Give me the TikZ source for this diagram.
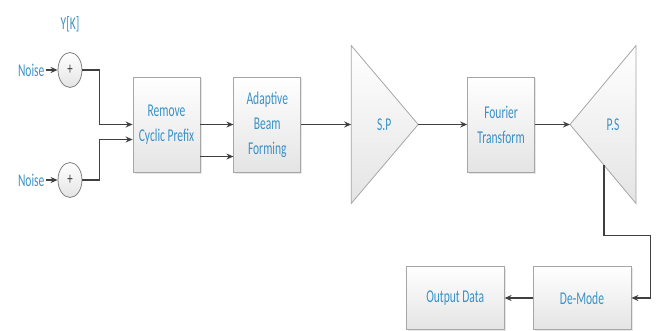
\documentclass[tikz,border=0pt]{standalone}
\usepackage{fontspec}
\newfontfamily\diagfont[FakeStretch=0.64]{Carlito}
\usetikzlibrary{arrows.meta, positioning, shapes.geometric, calc, shadows}
\definecolor{ink}{HTML}{3A92C6}
\definecolor{wire}{HTML}{404040}
\definecolor{border}{HTML}{A6A6A6}
\definecolor{shade}{HTML}{E4E4E4}
\tikzset{
  box/.style={draw=border, top color=white, bottom color=shade, line width=0.8pt,
              align=center, inner sep=2pt, font=\diagfont\fontsize{18}{25}\selectfont, text=ink,
              minimum width=67pt, minimum height=95pt,
              drop shadow={opacity=0.18, shadow xshift=1.5pt, shadow yshift=-1.5pt}},
  sum/.style={ellipse, draw=gray, top color=white, bottom color=shade, line width=0.8pt,
              minimum width=24pt, minimum height=35pt, inner sep=0pt,
              font=\diagfont\fontsize{17}{17}\selectfont, text=wire},
  tri/.style={draw=border, top color=white, bottom color=shade, line width=0.8pt},
  lbl/.style={inner sep=1pt, font=\diagfont\fontsize{18}{25}\selectfont, text=ink},
  fl/.style={-{Stealth[length=7pt, width=6pt]}, line width=1.2pt, draw=wire},
}
\begin{document}
\begin{tikzpicture}[x=1pt, y=1pt, node distance=33pt]
  \useasboundingbox (0,0) rectangle (656,330);
  % adders
  \node[sum] (s1) at (70,260) {+};
  \node[sum] (s2) at (70,150) {+};
  \node[lbl, left=12pt of s1] (n1) {Noise};
  \node[lbl, left=12pt of s2] (n2) {Noise};
  \node[lbl, above=19pt of s1] (yk) {Y[K]};
  % blocks
  \node[box] (rcp) at (166.5,205.5) {Remove\\Cyclic Prefix};
  \node[box, right=of rcp] (abf) {Adaptive\\Beam\\Forming};
  \coordinate[right=50pt of abf] (spin);
  \shade[tri] ($(spin)+(0,79)$) -- ($(spin)+(67,0)$) coordinate (spout)
    -- ($(spin)+(0,-79)$) -- cycle;
  \node[lbl] (sp) at ($(spin)+(33,0)$) {S.P};
  \node[box, right=49pt of spout] (ft) {Fourier\\Transform};
  \coordinate[right=35pt of ft] (psin);
  \shade[tri] (psin) -- ($(psin)+(66,79)$) -- ($(psin)+(66,-79)$) -- cycle;
  \node[lbl] (ps) at ($(psin)+(43,0)$) {P.S};
  \coordinate (psout) at ($(psin)+(34,-40.7)$);
  \node[box, minimum width=98pt, minimum height=63pt] (dm) at (582,32) {De-Mode};
  \node[box, minimum width=98pt, minimum height=63pt, left=28pt of dm] (od) {Output Data};
  % connectors
  \draw[fl] (n1) -- (s1);
  \draw[fl] (n2) -- (s2);
  \draw[fl] (s1.east) -- ++(17,0) |- (rcp.west);
  \draw[fl] (s2.east) -- ++(17,0) |- ([yshift=-15pt]rcp.west);
  \draw[fl] (rcp.east) -- (abf.west);
  \draw[fl] ([yshift=-32pt]rcp.east) -- ([yshift=-32pt]abf.west);
  \draw[fl] (abf.east) -- (spin);
  \draw[fl] (spout) -- (ft.west);
  \draw[fl] (ft.east) -- (psin);
  \draw[fl] (psout) -- ++(0,-70) -| ($(dm.east)+(19,0)$) -- (dm.east);
  \draw[fl] (dm) -- (od);
\end{tikzpicture}
\end{document}
